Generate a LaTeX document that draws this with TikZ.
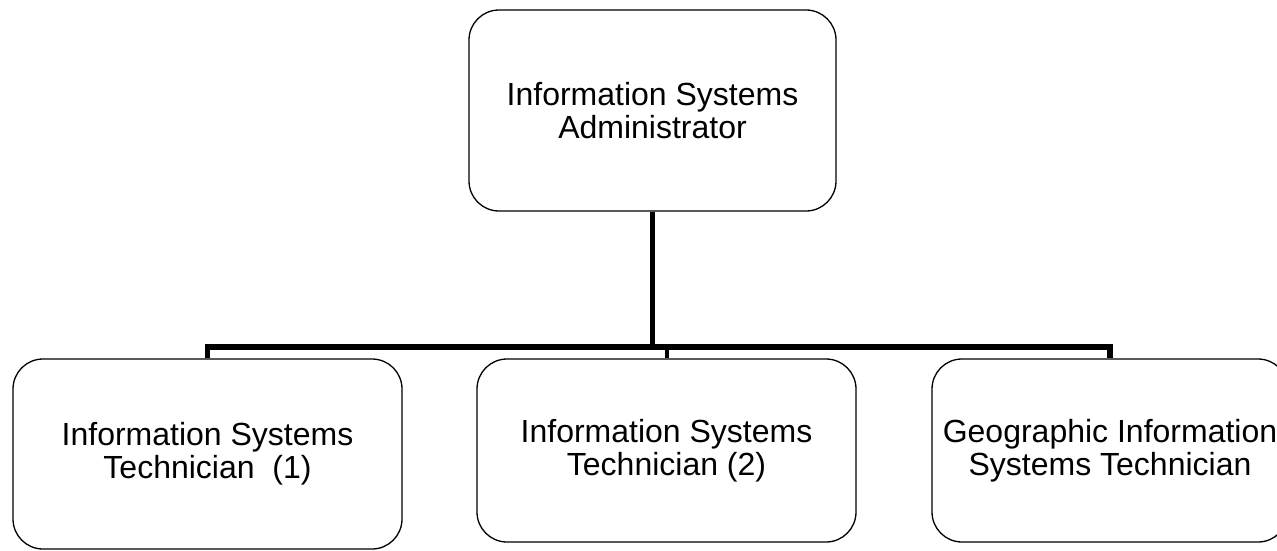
\documentclass[tikz,border=0pt]{standalone}
\usepackage{fontspec}
\setmainfont{Liberation Sans}
\begin{document}
\begin{tikzpicture}[x=1pt,y=-1pt,
  rolebox/.style={draw=black, line width=1.3pt, rounded corners=30pt, fill=white,
    align=center, inner sep=0pt, font=\fontsize{32}{33}\selectfont},
  conn/.style={draw=black, line width=5.5pt}]
\clip (0,0) rectangle (1277,551);
\fill[white] (0,0) rectangle (1277,551);
\node[rolebox, minimum width=367pt, minimum height=201pt] (top) at (652.5,110.5)
  {Information Systems\\Administrator};
\node[rolebox, minimum width=389pt, minimum height=190pt] (b1) at (207.5,454)
  {Information Systems\\Technician\ \ (1)};
\node[rolebox, minimum width=379pt, minimum height=183pt] (b2) at (666.5,450.5)
  {Information Systems\\Technician (2)};
\node[rolebox, minimum width=356pt, minimum height=183pt] (b3) at (1110,450.5)
  {Geographic Information\\Systems Technician};
\coordinate (j) at (652.5,347);
\draw[conn] (top.south) -- (j);
\draw[conn] (b1.north) |- (b3.north |- j) -- (b3.north);
\draw[conn, line width=4pt] (b2.north) -- (b2.north |- j);
\end{tikzpicture}
\end{document}
